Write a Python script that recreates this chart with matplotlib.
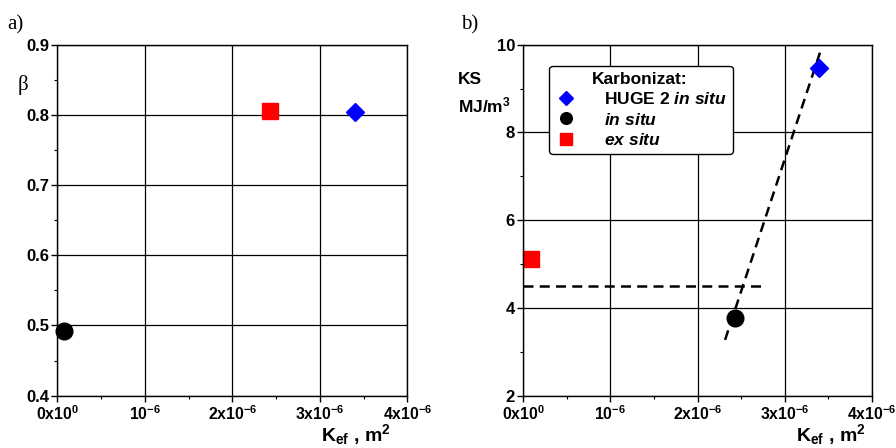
import matplotlib.pyplot as plt
from matplotlib.ticker import MultipleLocator, FixedLocator

plt.rcParams['font.family'] = 'Liberation Sans'
plt.rcParams['font.weight'] = 'bold'
plt.rcParams['mathtext.fontset'] = 'custom'
plt.rcParams['mathtext.rm'] = 'Liberation Sans:bold'
plt.rcParams['mathtext.bf'] = 'Liberation Sans:bold'
plt.rcParams['mathtext.it'] = 'Liberation Sans:bold:italic'
plt.rcParams['axes.unicode_minus'] = False

# data
kef_huge = [3.40e-6]
kef_insitu = [0.08e-6]
kef_exsitu = [2.43e-6]
beta_huge = [0.804]
beta_insitu = [0.492]
beta_exsitu = [0.806]

kef_b_huge = [3.395e-6]
kef_b_insitu = [2.43e-6]
kef_b_exsitu = [0.085e-6]
ks_huge = [9.48]
ks_insitu = [3.77]
ks_exsitu = [5.11]

hline_x = [0, 2.74e-6]
hline_y = [4.5, 4.5]
trend_x = [2.316e-6, 3.418e-6]
trend_y = [3.27, 9.90]

xticks = [0, 1e-6, 2e-6, 3e-6, 4e-6]
xticklabels = [r'0x10$^{0}$', r'10$^{-6}$', r'2x10$^{-6}$', r'3x10$^{-6}$', r'4x10$^{-6}$']

fig = plt.figure(figsize=(8.96, 4.48), dpi=100)
ax1 = fig.add_axes([0.064, 0.117, 0.3906, 0.783])
ax2 = fig.add_axes([0.584, 0.117, 0.389, 0.783])


def style(ax, ylim, ymajor, yminor):
    ax.set_xlim(0, 4e-6)
    ax.set_ylim(*ylim)
    ax.xaxis.set_major_locator(FixedLocator(xticks))
    ax.set_xticklabels(xticklabels)
    ax.xaxis.set_minor_locator(MultipleLocator(0.5e-6))
    ax.yaxis.set_major_locator(MultipleLocator(ymajor))
    ax.yaxis.set_minor_locator(MultipleLocator(yminor))
    ax.grid(True, which='major', color='black', linewidth=0.9)
    ax.tick_params(which='major', direction='out', length=4, width=1, labelsize=12, pad=2)
    ax.tick_params(axis='x', which='major', labelsize=11.3)
    ax.tick_params(which='minor', direction='out', length=2, width=0.8)
    for s in ax.spines.values():
        s.set_linewidth(1)
    for lab in ax.get_xticklabels() + ax.get_yticklabels():
        lab.set_fontweight('bold')
    ax.set_axisbelow(True)


style(ax1, (0.4, 0.9), 0.1, 0.05)
ax1.set_yticklabels(['%.1f' % v for v in ax1.get_yticks()])
ax1.plot(kef_huge, beta_huge, 'D', color='#0000ff', markersize=9, clip_on=False)
ax1.plot(kef_insitu, beta_insitu, 'o', color='black', markersize=12, clip_on=False)
ax1.plot(kef_exsitu, beta_exsitu, 's', color='#ff0000', markersize=12, clip_on=False)

style(ax2, (2, 10), 2, 1)
ax2.plot(hline_x, hline_y, color='black', linestyle=(0, (4, 2.5)), linewidth=1.8)
ax2.plot(trend_x, trend_y, color='black', linestyle=(0, (4, 2.5)), linewidth=1.8)
h1, = ax2.plot(kef_b_huge, ks_huge, 'D', color='#0000ff', markersize=9.5)
h2, = ax2.plot(kef_b_insitu, ks_insitu, 'o', color='black', markersize=12)
h3, = ax2.plot(kef_b_exsitu, ks_exsitu, 's', color='#ff0000', markersize=12, clip_on=False)

leg = ax2.legend([h1, h2, h3], [r'HUGE 2 $\mathit{in\ situ}$', r'$\mathit{in\ situ}$', r'$\mathit{ex\ situ}$'],
                 title='Karbonizat:', loc='upper left', bbox_to_anchor=(0.05, 0.965),
                 fontsize=12.5, title_fontproperties={'weight': 'bold', 'size': 12.5},
                 markerscale=0.7, handlelength=1.2, handletextpad=1.6, labelspacing=0.25,
                 fancybox=True, framealpha=1, edgecolor='black', borderpad=0.35)
leg.get_frame().set_linewidth(1)
leg._legend_box.align = 'left'
leg.get_title().set_position((36, 0))

fig.text(0.008, 0.935, 'a)', family='Liberation Serif', fontweight='normal', fontsize=15)
fig.text(0.515, 0.935, 'b)', family='Liberation Serif', fontweight='normal', fontsize=15)
fig.text(0.02, 0.80, 'β', family='Liberation Serif', fontweight='normal', fontsize=15)
fig.text(0.511, 0.812, 'KS', fontsize=12.5)
fig.text(0.511, 0.748, r'MJ/m$^3$', fontsize=12.5)
fig.text(0.436, 0.002, r'K$_{\mathrm{ef}}$ , m$^2$', fontsize=14, ha='right', va='bottom')
fig.text(0.966, 0.002, r'K$_{\mathrm{ef}}$ , m$^2$', fontsize=14, ha='right', va='bottom')

fig.savefig('out.png', dpi=100)
